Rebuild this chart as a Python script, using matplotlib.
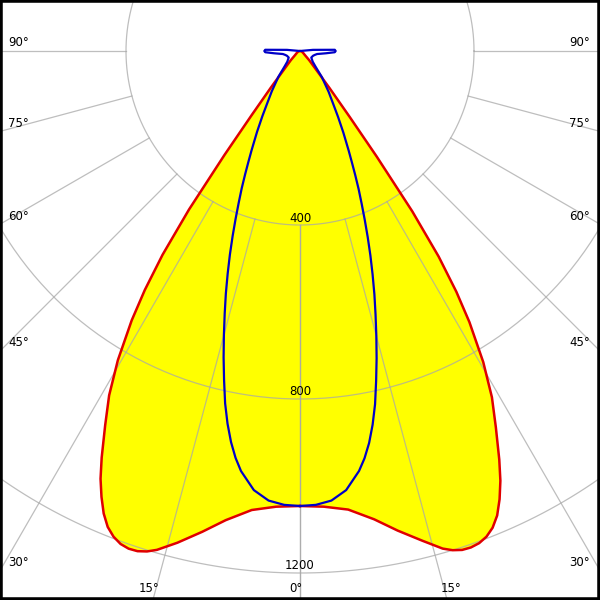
import numpy as np
import matplotlib.pyplot as plt

# polar light distribution, intensities in cd
gamma_red = [0, 3, 6, 9, 11.5, 14, 16, 17, 18, 19, 20, 21, 22, 23, 24, 25, 26, 27.5, 29,
             30.5, 32, 33, 34, 35, 36, 37, 38.5, 40, 45, 50, 60, 75, 90]
red_c0 = [1046, 1049, 1060, 1090, 1125, 1160, 1190, 1200, 1206, 1207, 1204, 1196, 1182, 1160,
          1128, 1090, 1045, 975, 910, 830, 735, 660, 570, 450, 300, 190, 110, 70, 30, 15, 8, 4, 0]
red_c180 = [1046, 1049, 1061, 1092, 1128, 1165, 1193, 1203, 1209, 1210, 1206, 1196, 1180, 1155,
            1122, 1085, 1040, 970, 905, 825, 730, 655, 565, 445, 295, 185, 108, 68, 30, 15, 8, 4, 0]

gamma_blue = [0, 2, 4, 6, 8, 9, 10, 11, 12, 13, 14, 15, 16, 17, 18, 19, 20, 21, 22, 23, 24,
              25, 26, 27, 28, 30, 32, 35, 40, 45, 50, 60, 70, 75, 80, 85, 88, 90, 92, 95, 100]
blue_c90 = [1046, 1044, 1036, 1015, 975, 948, 915, 875, 830, 778, 728, 678, 630, 585, 540,
            497, 455, 415, 378, 345, 312, 282, 256, 232, 212, 175, 145, 115, 78, 50, 38, 30,
            32, 35, 40, 60, 80, 82, 80, 30, 0]
blue_c270 = [1046, 1044, 1036, 1015, 975, 947, 913, 873, 828, 776, 726, 676, 628, 583, 538,
             495, 453, 413, 376, 343, 310, 280, 254, 230, 210, 173, 143, 113, 77, 50, 38, 30,
             32, 35, 40, 60, 80, 82, 80, 30, 0]

rings = [400, 800, 1200]
angle_ticks = [0, 15, 30, 45, 60, 75, 90]

px = 400 / 174.0  # cd per pixel


def to_xy(gam, inten, side):
    g = np.radians(np.asarray(gam, dtype=float))
    r = np.asarray(inten, dtype=float)
    return side * r * np.sin(g), -r * np.cos(g)


def closed_curve(gam, right, left):
    xr, yr = to_xy(gam, right, 1)
    xl, yl = to_xy(gam, left, -1)
    return np.concatenate([xr, xl[::-1]]), np.concatenate([yr, yl[::-1]])


fig = plt.figure(figsize=(6, 6), dpi=100)
ax = fig.add_axes([0, 0, 1, 1])
xmin, xmax = -300 * px, 300 * px
ymin, ymax = -549 * px, 51 * px
ax.set_xlim(xmin, xmax)
ax.set_ylim(ymin, ymax)
ax.set_xticks([])
ax.set_yticks([])
for s in ax.spines.values():
    s.set_linewidth(4)
    s.set_color('black')

# filled red curve
rx, ry = closed_curve(gamma_red, red_c0, red_c180)
ax.fill(rx, ry, color='#ffff00', lw=0, zorder=1)

# grid
grid_kw = dict(color='#a8a8a8', lw=0.9, alpha=0.75, zorder=2)
t = np.linspace(0, 2 * np.pi, 400)
for r in rings:
    ax.plot(r * np.cos(t), r * np.sin(t), **grid_kw)
far = 3000
for a in angle_ticks:
    for side in (1, -1):
        g = np.radians(a)
        ax.plot([side * 400 * np.sin(g), side * far * np.sin(g)],
                [-400 * np.cos(g), -far * np.cos(g)], **grid_kw)

# curves
ax.plot(rx, ry, color='#e00000', lw=1.8, zorder=3)
bx, by = closed_curve(gamma_blue, blue_c90, blue_c270)
ax.plot(bx, by, color='#0000c8', lw=1.6, zorder=4)

# ring labels
for r in rings:
    ax.text(0, -(r - 7 * px), str(r), ha='center', va='center', fontsize=8.5, zorder=5)

# angle labels where the radial lines leave the frame
for a in angle_ticks:
    g = np.radians(a)
    for side in (1, -1):
        dx, dy = side * np.sin(g), -np.cos(g)
        tx = (xmax if side > 0 else xmin) / dx if abs(dx) > 1e-9 else np.inf
        ty = ymin / dy if dy < -1e-9 else np.inf
        if tx < ty:
            y = tx * dy + 8 * px
            if side < 0:
                ax.text(xmin + 8 * px, y, f'{a}°', ha='left', va='center', fontsize=8.5)
            else:
                ax.text(xmax - 10 * px, y, f'{a}°', ha='right', va='center', fontsize=8.5)
        else:
            if a == 0 and side > 0:
                continue
            x = ty * dx + side * 4 * px
            ax.text(x, ymin + 12 * px, f'{a}°', ha='center', va='center', fontsize=8.5)

fig.savefig('out.png', dpi=100)
